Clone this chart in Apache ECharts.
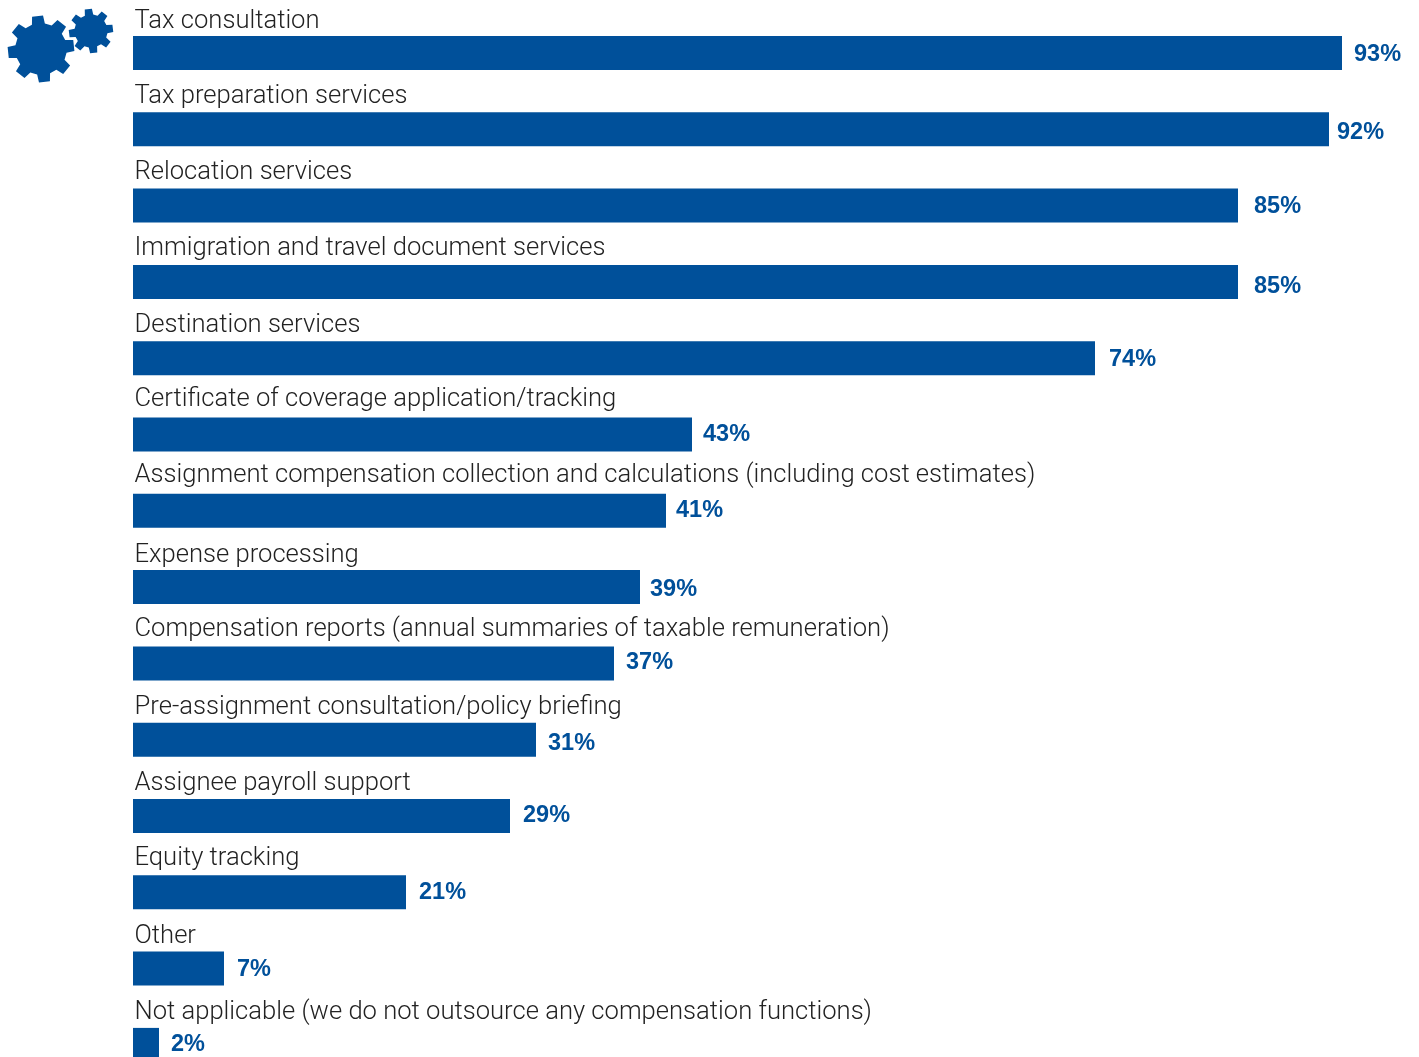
<!DOCTYPE html>
<html><head><meta charset="utf-8">
<style>html,body{margin:0;padding:0;background:#fff;overflow:hidden}#c{width:1419px;height:1057px}</style>
<script src="https://cdn.jsdelivr.net/npm/echarts@6/dist/echarts.min.js"></script>
</head><body><div id="c"></div>
<script>
const categories = ["Tax consultation","Tax preparation services","Relocation services","Immigration and travel document services","Destination services","Certificate of coverage application/tracking","Assignment compensation collection and calculations (including cost estimates)","Expense processing","Compensation reports (annual summaries of taxable remuneration)","Pre-assignment consultation/policy briefing","Assignee payroll support","Equity tracking","Other","Not applicable (we do not outsource any compensation functions)"];
const values = [93,92,85,85,74,43,41,39,37,31,29,21,7,2];
// hand placement of labels, as in the source artwork (pixels)
const nameRise = [34,35,36,36,35,37,38,34,36,35,35,36,35,35];
const valueGap = [12,8,16,16,14,11,10,10,12,12,13,13,13,12];
const valueDrop = [0,2,-1,3,0,-1,-2,1,-2,2,-2,-1,-1,-2];
const BLUE = '#00509a';

function gear(cx, cy, rBody, rTip, halfBase, halfTop, start, n) {
  const pts = [];
  for (let i = 0; i < n; i++) {
    const a = (start + i * 360 / n) * Math.PI / 180;
    const ux = Math.cos(a), uy = Math.sin(a), vx = -uy, vy = ux;
    const add = (r, w) => pts.push([cx + ux * r + vx * w, cy + uy * r + vy * w]);
    add(rBody, -halfBase); add(rTip, -halfTop); add(rTip, halfTop); add(rBody, halfBase);
  }
  return { type: 'polygon', shape: { points: pts }, style: { fill: BLUE }, silent: true };
}

const chart = echarts.init(document.getElementById('c'), null, { renderer: 'canvas' });
chart.setOption({
  animation: false,
  backgroundColor: '#fff',
  grid: { left: 133, top: 14.85, width: 1300, height: 1068.2, outerBoundsMode: 'none', containLabel: false },
  xAxis: { type: 'value', min: 0, max: 100, show: false },
  yAxis: { type: 'category', inverse: true, data: categories, axisLine: { show: false }, axisTick: { show: false }, axisLabel: { show: false } },
  graphic: [gear(41, 49, 25, 33, 6.5, 5.5, -96, 8), gear(91, 31, 16, 22, 4.2, 3.6, -97, 8)],
  series: [
    {
      type: 'bar', barWidth: 34, silent: true, z: 2,
      itemStyle: { color: BLUE },
      data: values.map((v, i) => ({
        value: v,
        label: { show: true, position: 'right', distance: valueGap[i], offset: [0, valueDrop[i] + 1.5],
          formatter: '{c}%', color: BLUE, fontFamily: 'Liberation Sans', fontWeight: 'bold', fontSize: 23.5 }
      }))
    },
    {
      type: 'bar', barWidth: 34, barGap: '-100%', silent: true, z: 3,
      itemStyle: { color: 'rgba(0,0,0,0)' },
      data: values.map((v, i) => ({
        value: v,
        label: { show: true, position: [1.5, 19.5 - nameRise[i]], align: 'left', verticalAlign: 'middle',
          formatter: categories[i], color: '#222', fontFamily: 'Roboto', fontWeight: 300, fontSize: 25.6 }
      }))
    }
  ]
});
</script></body></html>
